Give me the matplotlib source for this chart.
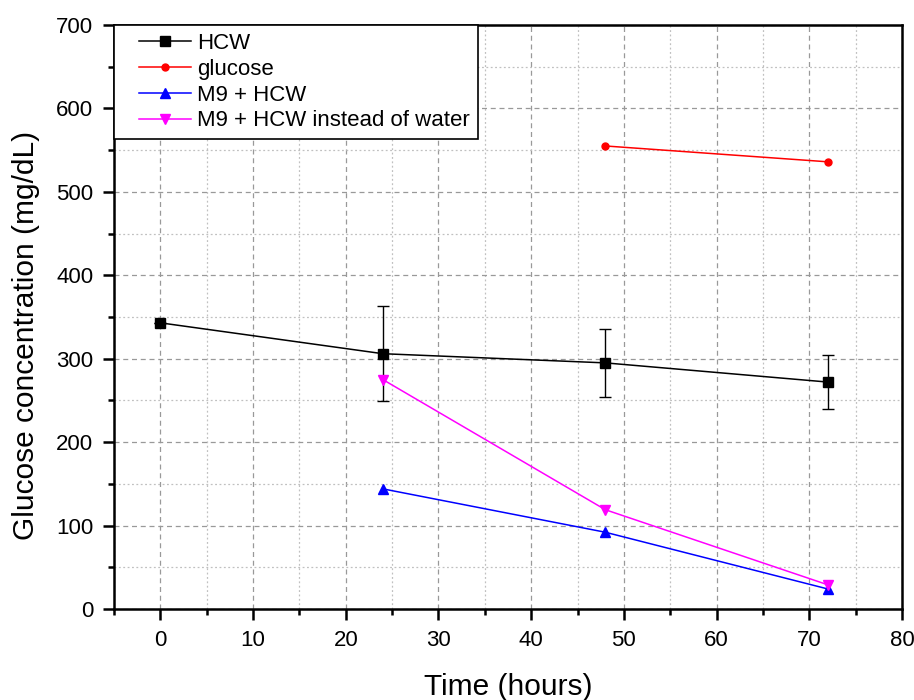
import matplotlib
matplotlib.use("Agg")
import matplotlib.pyplot as plt
from matplotlib.ticker import MultipleLocator
from matplotlib.lines import Line2D
from matplotlib.legend_handler import HandlerLine2D
import numpy as np

plt.rcParams['font.family'] = ['Liberation Sans', 'DejaVu Sans']

# Data
hcw_x = [0, 24, 48, 72]
hcw_y = [343, 306, 295, 272]
hcw_err = [0, 57, 41, 32]

glucose_x = [48, 72]
glucose_y = [555, 536]

m9_x = [24, 48, 72]
m9_y = [144, 92, 24]

m9w_x = [24, 48, 72]
m9w_y = [275, 119, 29]

labels = ["HCW", "glucose", "M9 + HCW", "M9 + HCW instead of water"]


class ShortHandler(HandlerLine2D):
    def get_xdata(self, legend, xdescent, ydescent, width, height, fontsize):
        start = -xdescent + width * 0.25
        end = -xdescent + width
        xdata = np.array([start, end])
        return xdata, np.array([(start + end) / 2])


fig = plt.figure(figsize=(9.14, 7.0), dpi=100)
ax = fig.add_axes([0.1247, 0.13, 0.8622, 0.8343])

lw = 1.1
ax.errorbar(hcw_x, hcw_y, yerr=hcw_err, color='black', marker='s', markersize=6.5,
            lw=lw, capsize=4, elinewidth=1.0, capthick=1.0, zorder=3)
ax.plot(glucose_x, glucose_y, color='red', marker='o', markersize=5, lw=lw, zorder=3)
ax.plot(m9_x, m9_y, color='blue', marker='^', markersize=7, lw=lw, zorder=3)
ax.plot(m9w_x, m9w_y, color='magenta', marker='v', markersize=7, lw=lw, zorder=3)

handles = [
    Line2D([], [], color='black', marker='s', markersize=6.5, lw=lw),
    Line2D([], [], color='red', marker='o', markersize=5, lw=lw),
    Line2D([], [], color='blue', marker='^', markersize=7, lw=lw),
    Line2D([], [], color='magenta', marker='v', markersize=7, lw=lw),
]

ax.set_xlim(-5, 80)
ax.set_ylim(0, 700)
ax.xaxis.set_major_locator(MultipleLocator(10))
ax.xaxis.set_minor_locator(MultipleLocator(5))
ax.yaxis.set_major_locator(MultipleLocator(100))
ax.yaxis.set_minor_locator(MultipleLocator(50))

ax.grid(which='major', color='#999999', linestyle=(0, (4, 3)), linewidth=0.9)
ax.grid(which='minor', color='#c0c0c0', linestyle=(0, (1.5, 2)), linewidth=0.9)
ax.set_axisbelow(True)

for s in ax.spines.values():
    s.set_linewidth(1.8)

ax.tick_params(which='major', direction='out', length=8, width=1.8, labelsize=16, pad=7)
ax.tick_params(which='minor', direction='out', length=4.5, width=1.8)
ax.tick_params(top=False, right=False, which='both')

ax.set_xlabel("Time (hours)", fontsize=21.5, labelpad=16)
ax.set_ylabel("Glucose concentration (mg/dL)", fontsize=21.5)
ax.yaxis.set_label_coords(-0.094, 0.469)

leg = ax.legend(handles, labels, loc='upper left', fontsize=16, frameon=True, fancybox=False,
                edgecolor='black', framealpha=1, handlelength=3.1,
                borderaxespad=0, labelspacing=0.22, borderpad=0.35,
                handletextpad=0.3,
                handler_map={Line2D: ShortHandler()})
leg.get_frame().set_linewidth(1.2)

fig.savefig("out.png", dpi=100)
